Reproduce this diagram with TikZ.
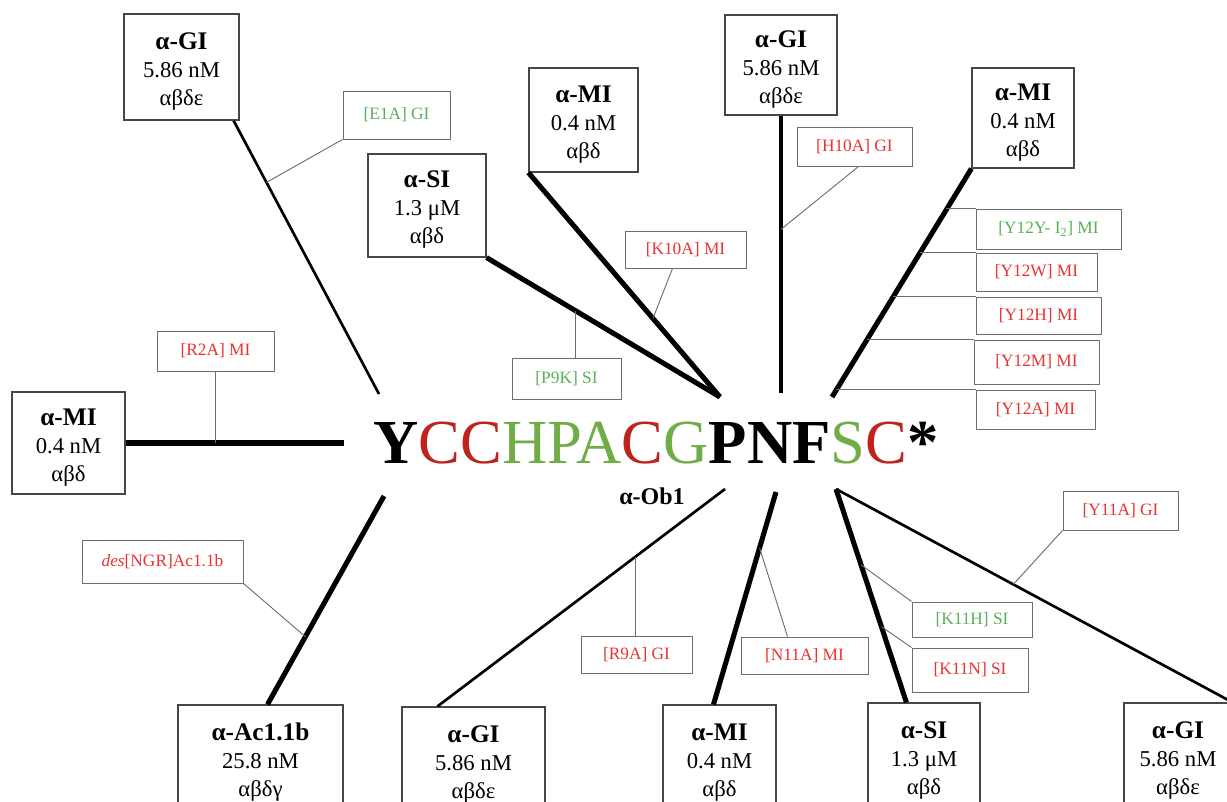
\documentclass[tikz,border=0pt]{standalone}
\usepackage{fontspec}
\setmainfont{Liberation Serif}
\usetikzlibrary{calc}
\definecolor{seqred}{RGB}{190,35,30}
\definecolor{seqgreen}{RGB}{112,173,71}
\definecolor{labred}{RGB}{232,52,48}
\definecolor{labgreen}{RGB}{88,176,88}
\definecolor{boxgray}{RGB}{70,70,70}
\definecolor{lgray}{RGB}{110,110,110}
\newcommand{\ttl}[1]{{\fontsize{19}{21}\selectfont\bfseries\rule{0pt}{19pt}#1}}
\newcommand{\bx}[7]{%
  \pgfmathsetmacro\bxcx{(#3+#5)/2}%
  \pgfmathsetmacro\bxcy{(#4+#6)/2}%
  \pgfmathsetmacro\bxw{(#5-#3)*0.75}%
  \pgfmathsetmacro\bxh{(#6-#4)*0.75}%
  \node[#2,minimum width=\bxw pt,minimum height=\bxh pt] (#1) at (\bxcx,\bxcy) {#7};}
\begin{document}
\begin{tikzpicture}[x=0.75pt,y=-0.75pt,
  bigbox/.style={draw=boxgray,line width=0.9pt,inner sep=0pt,align=center,font=\fontsize{17}{21}\selectfont},
  labbox/.style={draw=lgray,line width=0.75pt,inner sep=0pt,align=center,font=\fontsize{13}{15}\selectfont},
  redlab/.style={labbox,text=labred},
  greenlab/.style={labbox,text=labgreen},
  thickline/.style={line width=3.8pt},
  midline/.style={line width=2pt},
  conn/.style={draw=lgray,line width=0.7pt}]
\useasboundingbox (0,0) rectangle (1227,801);
\clip (0,0) rectangle (1227,801);

% large boxes
\bx{g1}{bigbox}{124}{14}{239}{120}{\ttl{α-GI}\\5.86 nM\\αβδε}
\bx{s1}{bigbox}{368}{154}{486}{257}{\ttl{α-SI}\\1.3 μM\\αβδ}
\bx{m1}{bigbox}{529}{68}{638}{172}{\ttl{α-MI}\\0.4 nM\\αβδ}
\bx{g2}{bigbox}{725}{15}{837}{115}{\ttl{α-GI}\\5.86 nM\\αβδε}
\bx{m2}{bigbox}{972}{68}{1074}{168}{\ttl{α-MI}\\0.4 nM\\αβδ}
\bx{m3}{bigbox}{12}{392}{125}{494}{\ttl{α-MI}\\0.4 nM\\αβδ}
\bx{ac}{bigbox}{178}{705}{343}{811}{\ttl{α-Ac1.1b}\\25.8 nM\\αβδγ}
\bx{g3}{bigbox}{402}{707}{545}{813}{\ttl{α-GI}\\5.86 nM\\αβδε}
\bx{m4}{bigbox}{663}{705}{776}{811}{\ttl{α-MI}\\0.4 nM\\αβδ}
\bx{s2}{bigbox}{868}{703}{980}{809}{\ttl{α-SI}\\1.3 μM\\αβδ}
\bx{g4}{bigbox}{1124}{703}{1232}{809}{\ttl{α-GI}\\5.86 nM\\αβδε}

% label boxes
\bx{e1a}{greenlab}{343}{91}{450}{139}{[E1A] GI}
\bx{k10a}{redlab}{625}{231}{746}{268}{[K10A] MI}
\bx{p9k}{greenlab}{512}{358}{621}{399}{[P9K] SI}
\bx{h10a}{redlab}{797}{127}{912}{166}{[H10A] GI}
\bx{y12i}{greenlab}{976}{209}{1121}{249}{[Y12Y- I\textsubscript{2}] MI}
\bx{y12w}{redlab}{976}{253}{1097}{291}{[Y12W] MI}
\bx{y12h}{redlab}{976}{297}{1101}{334}{[Y12H] MI}
\bx{y12m}{redlab}{974}{340}{1099}{384}{[Y12M] MI}
\bx{y12a}{redlab}{976}{390}{1095}{429}{[Y12A] MI}
\bx{r2a}{redlab}{157}{331}{274}{371}{[R2A] MI}
\bx{des}{redlab}{82}{540}{243}{583}{\textit{des}[NGR]Ac1.1b}
\bx{r9a}{redlab}{581}{636}{692}{673}{[R9A] GI}
\bx{n11a}{redlab}{741}{637}{868}{674}{[N11A] MI}
\bx{k11h}{greenlab}{912}{602}{1032}{637}{[K11H] SI}
\bx{k11n}{redlab}{912}{648}{1028}{692}{[K11N] SI}
\bx{y11a}{redlab}{1063}{491}{1178}{530}{[Y11A] GI}

% sequence
\node[anchor=base west,inner sep=0pt,font=\fontsize{47}{50}\selectfont] (seq) at (373,463)
 {\textbf{Y}\textcolor{seqred}{CC}\textcolor{seqgreen}{HPA}\textcolor{seqred}{C}\textcolor{seqgreen}{G}\textbf{PNF}\textcolor{seqgreen}{S}\textcolor{seqred}{C}\textbf{*}};
\node[inner sep=0pt,font=\fontsize{18}{20}\selectfont\bfseries] (ob) at (652,496) {α-Ob1};

% free ends near the sequence
\coordinate (e1) at (379,394);
\coordinate (e2) at (720,397);
\coordinate (e4) at (781,393);
\coordinate (e5) at (832,397);
\coordinate (e6) at (344,443);
\coordinate (e7) at (384,496);
\coordinate (e8) at (725,489);
\coordinate (e9) at (776,492);
\coordinate (e10) at (836,489);

% starting points on boxes
\coordinate (a1) at ($(g1.south east)+(-6,0)$);
\coordinate (a7) at ($(ac.north)+(7,0)$);
\coordinate (a8) at ($(g3.north west)+(36,0)$);
\coordinate (a9) at ($(m4.north)+(-6,0)$);
\coordinate (a10) at ($(s2.north west)+(39,0)$);

% main connectors
\draw[midline] (a1) -- (e1);
\draw[thickline] (s1.south east) -- (e2);
\draw[thickline] (m1.south west) -- (e2);
\draw[midline,line width=2.3pt] (g2.south) -- (e4);
\draw[thickline] (m2.south west) -- (e5);
\draw[thickline] (m3.east) -- (e6);
\draw[thickline] (a7) -- (e7);
\draw[midline] (a8) -- (e8);
\draw[thickline] (a9) -- (e9);
\draw[thickline] (a10) -- (e10);
\draw[midline] (e10) -- (g4.north east);

% junctions
\coordinate (j1) at ($(a1)!0.226!(e1)$);
\coordinate (jp) at ($(s1.south east)!0.38!(e2)$);
\coordinate (jk) at ($(m1.south west)!0.65!(e2)$);
\coordinate (jh) at ($(g2.south)!0.41!(e4)$);
\coordinate (jy1) at ($(m2.south west)!0.179!(e5)$);
\coordinate (jy2) at ($(m2.south west)!0.371!(e5)$);
\coordinate (jy3) at ($(m2.south west)!0.563!(e5)$);
\coordinate (jy4) at ($(m2.south west)!0.751!(e5)$);
\coordinate (jy5) at ($(m2.south west)!0.969!(e5)$);
\coordinate (jd) at ($(a7)!0.325!(e7)$);
\coordinate (jr) at ($(a8)!0.688!(e8)$);
\coordinate (jn) at ($(a9)!0.737!(e9)$);
\coordinate (jkh) at ($(a10)!0.645!(e10)$);
\coordinate (jkn) at ($(a10)!0.355!(e10)$);
\coordinate (jya) at ($(e10)!0.447!(g4.north east)$);

% label connectors
\draw[conn] (e1a.south west) -- (j1);
\draw[conn] (jp) -- (jp |- p9k.north);
\draw[conn] ($(k10a.south west)+(48,0)$) -- (jk);
\draw[conn] ($(h10a.south west)+(62,0)$) -- (jh);
\draw[conn] (jy1 |- y12i.north west) -- (y12i.north west);
\draw[conn] (jy2 |- y12w.north west) -- (y12w.north west);
\draw[conn] (jy3 |- y12h.north west) -- (y12h.north west);
\draw[conn] (jy4 |- y12m.north west) -- (y12m.north west);
\draw[conn] (jy5 |- y12a.north west) -- (y12a.north west);
\draw[conn] (r2a.south) -- (r2a.south |- m3.east);
\draw[conn] (des.south east) -- (jd);
\draw[conn] (jr) -- (jr |- r9a.north);
\draw[conn] ($(n11a.north west)+(47,0)$) -- (jn);
\draw[conn] (k11h.north west) -- (jkh);
\draw[conn] (k11n.north west) -- (jkn);
\draw[conn] (y11a.south west) -- (jya);
\end{tikzpicture}
\end{document}
